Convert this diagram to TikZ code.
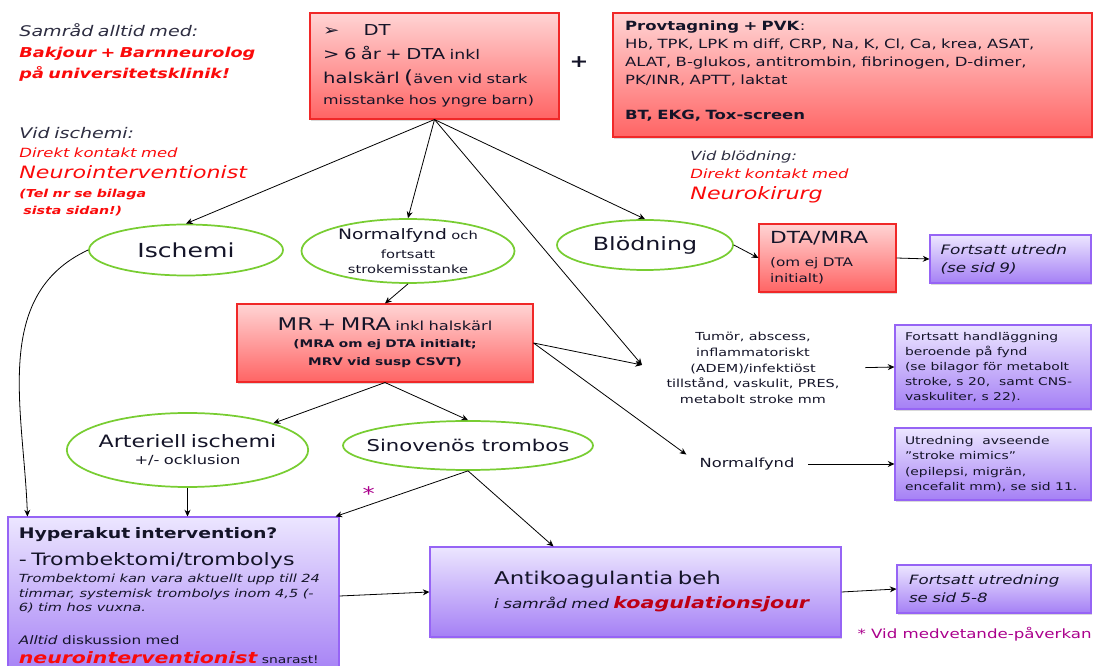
\documentclass[tikz,border=0pt]{standalone}
\usepackage{fontspec}
\setmainfont{DejaVu Sans}[FakeStretch=1.3]
\usetikzlibrary{arrows.meta, shapes.geometric, shadows}
\setlength{\parindent}{0pt}
\newcommand{\fsz}[2]{\fontsize{#1}{#2}\selectfont}

\definecolor{ink}{RGB}{20,20,40}
\definecolor{grayink}{RGB}{45,45,65}
\definecolor{alarm}{RGB}{250,10,10}
\definecolor{deepred}{RGB}{190,0,20}
\definecolor{starpurple}{RGB}{170,0,140}
\definecolor{redline}{RGB}{240,40,40}
\definecolor{redtop}{RGB}{255,212,212}
\definecolor{redbot}{RGB}{255,100,100}
\definecolor{violine}{RGB}{150,100,245}
\definecolor{viotop}{RGB}{236,230,255}
\definecolor{viobot}{RGB}{165,128,245}
\definecolor{leafgreen}{RGB}{120,205,50}

\tikzstyle{flow}=[x=0.75pt, y=-0.75pt, >={Stealth[length=5pt,width=4.5pt]}, line width=0.6pt, text=ink]
\tikzstyle{redbox}=[draw=redline, line width=0.8pt, top color=redtop, bottom color=redbot, inner sep=0pt,
  drop shadow={shadow xshift=1pt, shadow yshift=-1.5pt, opacity=.3}]
\tikzstyle{viobox}=[draw=violine, line width=0.8pt, top color=viotop, bottom color=viobot, inner sep=0pt,
  drop shadow={shadow xshift=1pt, shadow yshift=-1.5pt, opacity=.3}]
\tikzstyle{finding}=[ellipse, draw=leafgreen, line width=1.3pt, fill=white, inner sep=0pt, align=center]
\tikzstyle{note}=[inner sep=0pt, anchor=north west, text width=200pt, align=left]

\begin{document}
\begin{tikzpicture}[flow]
  \useasboundingbox (0,0) rectangle (1093,666);

  % notes
  \node[note] (samrad) at (19,23) {
    {\fsz{11}{15}\itshape\color{grayink}Samråd alltid med:\par}
    {\fsz{10.2}{15.75}\bfseries\itshape\color{alarm}Bakjour + Barnneurolog\par}
    {\fsz{10.2}{15.75}\bfseries\itshape\color{alarm}på universitetsklinik!\par}};
  \node[note] (isnote) at (19,127) {
    {\fsz{11}{14}\itshape\color{grayink}Vid ischemi:\par}
    {\fsz{9.5}{14.25}\itshape\color{alarm}Direkt kontakt med\par}
    {\fsz{12.75}{15.75}\itshape\color{alarm}Neurointerventionist\par}
    {\fsz{8.2}{14.25}\bfseries\itshape\color{alarm}(Tel nr se bilaga\par}
    {\fsz{8.2}{13}\bfseries\itshape\color{alarm}\hspace*{3pt}sista sidan!)\par}};
  \node[note] (blnote) at (690,151) {
    {\fsz{9.4}{13.5}\itshape\color{grayink}Vid blödning:\par}
    {\fsz{9.5}{13.5}\itshape\color{alarm}Direkt kontakt med\par}
    {\fsz{12.8}{15.75}\itshape\color{alarm}Neurokirurg\par}};

  % top row
  \node[redbox, minimum width=186.75pt, minimum height=79.5pt, text width=167pt, align=left] (dt) at (434.5,66) {
    {\fsz{11.3}{14}\textbf{➢}\hspace{18pt}DT\par}
    {\fsz{11.3}{18}> 6 år + DTA {\fsz{10}{18}inkl}\par}
    {\fsz{11.3}{18}halskärl {\fsz{13.5}{18}(}{\fsz{9.4}{18}även vid stark}\par}
    {\fsz{9.2}{15.75}misstanke hos yngre barn)\par}};
  \node (plus) at (579,62) {\fsz{13}{15}\bfseries +};
  \node[redbox, minimum width=359.25pt, minimum height=93pt, text width=341pt, align=left] (prov) at (852.5,75) {
    \fsz{9.5}{13.5}\textbf{Provtagning + PVK}:\par
    Hb, TPK, LPK m diff, CRP, Na, K, Cl, Ca, krea, ASAT,\par
    ALAT, B-glukos, antitrombin, fibrinogen, D-dimer,\par
    PK/INR, APTT, laktat\par
    \vspace{13pt}
    \textbf{BT, EKG, Tox-screen}\par
    \vspace{6pt}};

  % findings
  \node[finding, minimum width=145.5pt, minimum height=38.25pt] (isch) at (186,250) {\fsz{14.5}{17}Ischemi};
  \node[finding, minimum width=159.75pt, minimum height=48pt, text width=110pt] (norm) at (408,251) {
    {\fsz{10.8}{13}Normalfynd {\fsz{8.5}{13}och}\par}
    {\fsz{8.5}{14}fortsatt\par}
    {\fsz{8.5}{11}strokemisstanke\par}};
  \node[finding, minimum width=132pt, minimum height=37.5pt] (bled) at (645,245) {\fsz{13.7}{16}Blödning};
  \node[redbox, minimum width=102.75pt, minimum height=51pt, text width=86pt, align=left] (dta) at (827.5,258) {
    {\fsz{12.5}{16}DTA/MRA\par}
    {\fsz{8.8}{17}(om ej DTA\par}
    {\fsz{8.8}{12}initialt)\par}};
  \node[viobox, minimum width=120.75pt, minimum height=36pt, text width=105pt, align=left] (fu9) at (1010.5,259) {
    \fsz{9.75}{13.5}\itshape Fortsatt utredn\par (se sid 9)\par};

  % MR level
  \node[redbox, minimum width=222pt, minimum height=58.5pt, text width=200pt, align=center] (mr) at (385,343) {
    {\fsz{13.1}{16}MR + MRA {\fsz{9.4}{16}inkl halskärl}\par}
    {\bfseries\fsz{7.9}{12.75}(MRA om ej DTA initialt;\par}
    {\bfseries\fsz{7.9}{13.5}MRV vid susp CSVT)\par}};
  \node[inner sep=0pt, text width=140pt, align=center] (tum) at (753,368) {
    \fsz{8.3}{11.8}Tumör, abscess,\par inflammatoriskt\par (ADEM)/infektiöst\par
    tillstånd, vaskulit, PRES,\par metabolt stroke mm\par};
  \node[viobox, minimum width=147pt, minimum height=63pt, text width=132pt, align=left] (fh) at (993,367) {
    \fsz{8}{11.3}Fortsatt handläggning\par beroende på fynd\par (se bilagor för metabolt\par
    stroke, s 20,\ \ samt CNS-\par vaskuliter, s 22).\par};
  \node[inner sep=0pt] (nf) at (747,464) {\fsz{9.4}{12}Normalfynd};
  \node[viobox, minimum width=147pt, minimum height=54pt, text width=132pt, align=left] (ut) at (993,464) {
    \fsz{8}{11.5}Utredning\ \ avseende\par ”stroke mimics”\par (epilepsi, migrän,\par encefalit mm), se sid 11.\par};

  % lower branches
  \node[finding, minimum width=179.25pt, minimum height=55.5pt, text width=136pt, inner xsep=-4pt] (art) at (187.5,450) {
    {\fsz{12.8}{15}Arteriell ischemi\par}
    {\fsz{9.4}{13}+/- ocklusion\par}};
  \node[finding, minimum width=187.5pt, minimum height=36.75pt, inner xsep=-11pt] (sin) at (468,445.5) {\fsz{12.2}{15}Sinovenös trombos};
  \node[viobox, minimum width=248.25pt, minimum height=118.5pt, text width=232pt, align=left] (hyp) at (173.5,596) {
    {\bfseries\fsz{10.9}{14}Hyperakut intervention?\par}
    {\fsz{12.8}{20}- Trombektomi/trombolys\par}
    {\itshape\fsz{8.4}{12.75}\mbox{Trombektomi kan vara aktuellt upp till 24}\par}
    {\itshape\fsz{8.4}{11}\mbox{timmar, systemisk trombolys inom 4,5 (-}\par}
    {\itshape\fsz{8.4}{11}6) tim hos vuxna.\par}
    {\fsz{8.8}{24.75}\textit{Alltid} diskussion med\par}
    {\fsz{8}{14.25}\mbox{{\color{alarm}\bfseries\itshape\fsz{11.8}{14.25}neurointerventionist} snarast!}\par}};
  \node[viobox, minimum width=308.25pt, minimum height=67.5pt, text width=212pt, align=left] (anti) at (635.5,592) {
    {\fsz{13.2}{16}Antikoagulantia beh\par}
    {\fsz{9.75}{18}\mbox{\itshape i samråd med {\color{deepred}\bfseries\fsz{11.9}{18}koagulationsjour}}\par}};
  \node[viobox, minimum width=145.5pt, minimum height=36pt, text width=127.5pt, align=left] (fu58) at (994,589) {
    \itshape\fsz{9.6}{13.5}Fortsatt utredning\par se sid 5-8\par};
  \node[inner sep=0pt, anchor=east, text=starpurple] (foot) at (1092,634) {\fsz{9.6}{12}* Vid medvetande-påverkan};

  % connectors
  \coordinate (tin) at (642,365);
  \draw[->] (dt.south) -- (isch.north);
  \draw[->] (dt.south) -- (norm.north);
  \draw[->] (dt.south) -- (bled.north);
  \draw[->] (dt.south) -- (tin);
  \draw[->] (mr.east) -- (tin);
  \draw[->, shorten >=12pt] (mr.east) -- (nf.west);
  \draw[->] (norm.south) -- (mr.north);
  \draw[->] (mr.south) -- (art.north east);
  \draw[->] (mr.south) -- (sin.north);
  \draw[->] (isch.west) to[out=205, in=92] ([xshift=15pt]hyp.north west);
  \draw[->] (art.south) -- (art.south |- hyp.north);
  \draw[->] (sin.south) -- node[pos=0.75, above, text=starpurple, font=\fsz{14}{14}] {*} ([xshift=-3pt]hyp.north east);
  \draw[->] (sin.south) -- ([xshift=-61.5pt]anti.north);
  \draw[->] (bled.east) -- (dta.west);
  \draw[->] (dta.east) -- (fu9.west);
  \draw[->, shorten <=14pt] (tum.east) -- (fh.west);
  \draw[->, shorten <=10pt] (nf.east) -- (ut.west);
  \draw[->] (hyp.east) -- (anti.west);
  \draw[->] (anti.east) -- (fu58.west);
\end{tikzpicture}
\end{document}
